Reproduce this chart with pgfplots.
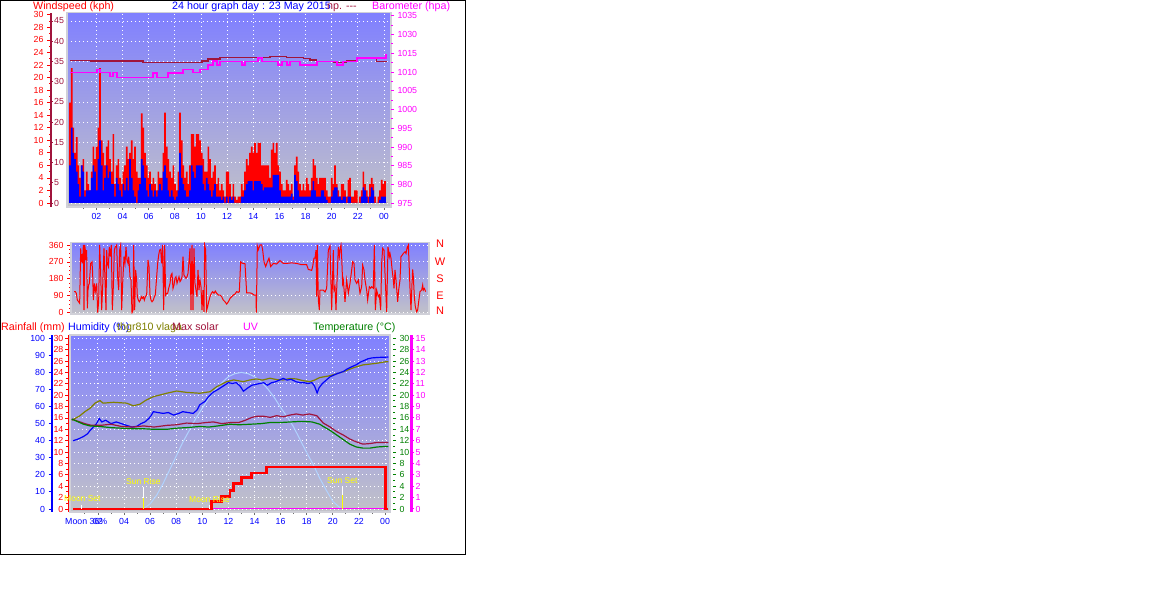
\documentclass[border=0pt]{standalone}
\usepackage{fontspec}
\setmainfont{Liberation Sans}
\usepackage{pgfplots}
\usepackage{pgfplotstable}
\pgfplotsset{compat=1.18}

\definecolor{bgtop}{RGB}{128,128,255}
\definecolor{bgbot}{RGB}{194,194,200}
\definecolor{mar}{RGB}{160,20,60}
\definecolor{oli}{RGB}{128,128,0}
\definecolor{mag}{RGB}{255,0,255}
\definecolor{grn}{RGB}{0,128,0}
\definecolor{sol}{RGB}{176,210,255}
\definecolor{yel}{RGB}{255,255,0}
\definecolor{frm}{RGB}{208,208,216}
\definecolor{tk}{RGB}{110,110,110}

\newcommand{\hdr}{\fontsize{10.7}{12}\selectfont}
\newcommand{\tkf}{\fontsize{8.8}{10}\selectfont}

\pgfplotstableread{
k gust avg
0 16 6
1 21.5 12
2 12 8
3 8 7
4 10.5 5
5 6 3
6 4 1
7 6 6
8 7 5
9 2 1
10 5 2
11 3 2
12 2 2
13 5 4
14 9 6
15 7 5
16 9 2
17 12 7
18 21.5 10
19 10 6
20 8 2
21 6 4
22 9 6
23 10 4
24 7 5
25 5 3
26 11 3
27 3 1
28 6 4
29 7 3
30 4 2
31 3 1
32 5 3
33 6 2
34 9 4
35 7 2
36 8 7
37 10 4
38 7 2
39 9 1
40 5 0
41 4 2
42 4 3
43 14.3 7
44 12 6
45 8 4
46 6 2
47 4 1
48 5 3
49 3 2
50 4 1
51 3 2
52 2 1
53 5 2
54 4 3
55 4 2
56 8 5
57 14.4 6
58 9 4
59 7 2
60 5 1
61 4 2
62 6 1
63 3 0.5
64 2 1
65 5 2
66 14.4 8
67 10 4
68 6 3
69 4 2
70 5 1
71 3 1
72 6 2
73 11 6
74 11 5
75 9 4
76 11 6
77 11 6
78 10 6
79 8 6
80 7 3
81 5 2
82 5 4
83 9 3
84 7 2
85 4 1
86 5 2
87 6 3
88 3 1
89 4 1
90 2 1
91 3 0.5
92 2 1
93 1 0
94 5 1
95 5 0
96 3 1
97 1 0.5
98 3 1
99 1 0
100 0.5 0
101 1 0
102 1 0
103 3 1
104 2 1
105 5 2
106 7 3
107 6 3.5
108 8 3.5
109 9 3.5
110 8 2
111 9.6 3.5
112 8 3.5
113 9.6 3.5
114 9.6 3.5
115 6 3
116 6 2
117 6 2.5
118 6 2.5
119 6 2.5
120 4 2.5
121 8.5 2.5
122 9.6 4.5
123 8 4.5
124 9.6 4.5
125 6 4.5
126 5 2
127 3 1
128 2 1
129 2 1
130 3.7 1
131 3 1
132 2 1
133 3 1.5
134 1 0.5
135 6 4.5
136 7.4 3.5
137 5 2
138 3 1
139 2 1
140 3 1
141 2 1
142 4 1
143 3 1
144 2 1
145 4 2
146 7 3.5
147 6 2
148 4 1
149 3 1
150 4 1
151 4 2
152 4 2
153 4 1
154 2 0.5
155 1 0
156 1 0
157 4 1
158 3 2
159 6 2.5
160 3 2.5
161 2 1
162 1 1
163 3 0.5
164 3 1
165 2 1
166 1 0
167 3.7 1
168 4 1
169 1 0
170 1 0
171 2 0
172 2 0
173 0 0
174 1 0
175 2 1
176 5 2.5
177 3 2
178 2 1
179 1 0
180 3 1
181 4 2.5
182 3 2
183 1 0
184 0 0
185 1 0
186 2 0.5
187 3.7 1
188 3 1
189 3.5 1
190 0 0
}\windtab

\pgfplotstableread{
x deg
222 112
226 112
229 103
232 67
236 58
239 50
242 342
244 280
246 298
248 262
250 360
252 14
254 360
256 333
258 280
260 333
262 23
264 120
266 147
268 156
272 262
276 271
278 209
280 67
283 156
286 112
290 156
293 0
296 58
299 360
302 209
305 14
308 138
312 342
315 174
318 14
320 333
322 262
325 245
328 350
331 298
334 360
337 14
340 138
343 333
346 350
350 360
353 191
356 120
359 333
362 360
365 14
368 156
372 298
375 262
378 350
381 280
384 262
386 298
388 254
390 191
393 174
396 0
399 14
401 360
404 14
407 227
410 174
412 85
415 67
418 58
421 67
424 85
427 76
430 85
433 67
436 85
440 94
444 280
447 245
450 94
453 67
456 58
460 67
463 85
466 94
470 191
473 262
476 307
479 333
482 337
485 262
488 360
491 14
494 360
497 94
500 103
503 103
506 129
510 156
513 200
516 209
519 129
522 147
525 183
528 191
531 156
534 174
537 191
540 165
543 174
546 191
549 298
552 200
555 191
558 183
561 191
564 209
567 271
570 342
573 14
576 360
579 14
582 342
585 156
588 120
591 85
594 227
597 120
600 174
603 138
606 14
609 120
612 5
614 360
617 333
620 14
623 32
626 58
630 85
634 103
638 112
642 103
646 115
650 103
655 94
660 94
665 85
670 67
675 58
680 46
685 58
690 76
695 85
700 94
705 99
710 112
715 108
718 112
722 270
728 262
735 260
740 105
750 105
755 103
762 94
768 94
769 0
772 355
775 335
780 360
785 360
788 333
792 270
797 245
802 270
807 290
812 245
820 262
830 259
840 277
850 262
860 262
875 265
890 262
905 255
920 255
925 230
935 225
938 245
942 290
945 290
948 333
950 85
952 360
955 67
958 14
960 120
965 120
970 120
975 110
980 130
985 333
990 355
995 14
1000 333
1002 120
1005 138
1008 14
1010 120
1015 350
1018 298
1020 333
1023 360
1025 298
1028 156
1030 174
1035 58
1040 174
1045 103
1050 156
1055 227
1058 271
1062 262
1065 174
1070 156
1075 174
1080 103
1085 138
1088 253
1092 227
1095 174
1100 120
1103 67
1108 138
1112 130
1115 138
1120 130
1123 360
1126 14
1130 120
1135 85
1138 94
1142 14
1145 262
1148 342
1152 333
1155 209
1158 85
1160 5
1164 350
1168 298
1170 315
1173 289
1177 218
1180 174
1182 129
1185 227
1188 174
1190 129
1193 58
1196 120
1200 174
1203 298
1207 307
1210 315
1215 324
1218 315
1222 350
1225 360
1228 227
1230 129
1233 14
1236 156
1238 230
1240 191
1243 85
1246 32
1250 5
1253 14
1256 58
1260 112
1265 120
1268 147
1270 120
1273 129
1277 112
}\dirtab

\pgfplotsset{
  panel/.style={scale only axis, anchor=north west,
    axis background/.style={top color=bgtop, bottom color=bgbot},
    axis line style={draw=frm, line width=1.2pt},
    grid=major,
    major grid style={draw=white, line width=0.9pt, dash pattern=on 0.9pt off 3.1pt},
    ytick style={draw=none}, yticklabels={},
    xtick pos=left, tick align=outside,
    xtick style={draw=tk, line width=0.8pt},
    major tick length=3pt, minor tick length=2pt,
    xticklabel style={font=\tkf, text=blue}},
  over/.style={scale only axis, anchor=north west, axis lines=none},
  yax/.style={scale only axis, anchor=north west, width=1pt, xmin=0, xmax=1,
    axis x line=none, tick align=outside,
    /pgf/number format/assume math mode=true,
    yticklabel style={font=\tkf},
    major tick length=4pt, minor tick length=2pt},
}

\begin{document}
\begin{tikzpicture}
\fill[white, use as bounding box] (0pt,0pt) rectangle (1176pt,615pt);
\draw[black, line width=1pt] (0.5pt,614.5pt) rectangle (465.5pt,60.5pt);

% ---------------- Panel 1: wind speed bars ----------------
\begin{axis}[panel, at={(67pt,602.3pt)}, width=324pt, height=194.3pt,
  xmin=-1.8, xmax=192.6, ymin=-0.64, ymax=30.35,
  xtick={15.86,31.55,47.23,62.92,78.6,94.28,109.97,125.65,141.34,157.02,172.7,188.39},
  xticklabels={02,04,06,08,10,12,14,16,18,20,22,00},
  minor xtick={8.02,23.7,39.4,55.1,70.8,86.4,102.1,117.8,133.5,149.2,164.9,180.5},
  ytick={0,3.22,6.44,9.66,12.88,16.10,19.32,22.54,25.76,28.98}]
\addplot[ybar, bar width=1, bar shift=0pt, fill=red, draw=none] table[x=k,y=gust] {\windtab};
\addplot[ybar, bar width=1, bar shift=0pt, fill=blue, draw=none] table[x=k,y=avg] {\windtab};
\end{axis}

% barometer lines
\begin{axis}[over, at={(67pt,602.3pt)}, width=324pt, height=194.3pt,
  xmin=-1.8, xmax=192.6, ymin=974.01, ymax=1025.83]
\addplot[const plot, mar, line width=1.4pt] coordinates {(0,1013.1)(12.6,1012.9)(43.8,1012.6)(79.2,1012.9)(82.8,1013.5)(90,1013.8)(112,1013.9)(120,1014.1)(130,1013.8)(140,1013.6)(144,1013.2)(148,1012.8)(158,1012.6)(166,1012.9)(172,1013.6)(184,1012.8)(190,1012.8)};
\addplot[const plot, mag, line width=1.4pt] coordinates {(0,1009.8)(16.2,1010.7)(18,1009.8)(24,1008.8)(25.8,1009.8)(28.2,1008.6)(49.8,1009.7)(52.2,1008.6)(58.8,1009.7)(67.8,1010.7)(73.8,1009.8)(78,1010.7)(82.8,1011.9)(85.8,1012.9)(88.2,1011.9)(90,1012.8)(103.2,1011.9)(105,1012.8)(112.8,1013.7)(115.2,1012.8)(124.8,1011.9)(127.2,1012.8)(130.2,1011.9)(132,1012.8)(138,1011.9)(148.2,1012.8)(160.2,1011.9)(163.8,1012.8)(172.2,1013.7)(189.6,1014.5)(190.2,1014.5)};
\end{axis}

% windspeed axis (left)
\begin{axis}[yax, at={(51pt,602.3pt)}, height=194.3pt,
  ymin=-0.64, ymax=30.35, axis y line*=left,
  y axis line style={-, draw=mar, line width=1.2pt},
  ytick={0,2,...,30}, minor y tick num=1,
  yticklabel style={text=red}, ytick style={draw=red, line width=0.8pt}]
\end{axis}
% gust scale (0-45)
\begin{axis}[yax, at={(50pt,602.3pt)}, height=194.3pt,
  ymin=-0.989, ymax=47.05, axis y line*=right,
  y axis line style={draw=none},
  ytick={0,5,...,45}, major tick length=2pt,
  yticklabel style={text=mar, inner sep=1pt}, ytick style={draw=mar, line width=0.8pt}]
\end{axis}
% barometer axis (right)
\begin{axis}[yax, at={(390pt,602.3pt)}, height=194.3pt,
  ymin=974.01, ymax=1025.83, axis y line*=right,
  y axis line style={draw=none},
  ytick={975,980,985,990,995,1000,1005,1010,1015,1020,1025},
  yticklabels={975,980,985,990,995,1000,1005,1010,1015,1030,1035},
  minor y tick num=1, major tick length=3pt,
  yticklabel style={text=mag}, ytick style={draw=mag, line width=0.9pt}]
\end{axis}

% ---------------- Panel 2: wind direction ----------------
\begin{axis}[panel, at={(71pt,372.3pt)}, width=358pt, height=71.3pt,
  xmin=213, xmax=1287, ymin=-6.9, ymax=372.2,
  xtick=\empty, ytick={0,90,180,270,360}, yticklabels={0,90,180,270,360},
  ytick pos=left, minor y tick num=3,
  ytick style={draw=red, line width=0.8pt}, major tick length=4pt,
  yticklabel style={font=\tkf, text=red}]
\addplot[red, line width=1pt] table[x=x,y=deg] {\dirtab};
\end{axis}

% ---------------- Panel 3: humidity / temperature / rain ----------------
\begin{axis}[panel, at={(70pt,280pt)}, width=320pt, height=177pt,
  xmin=-0.138, xmax=24.383, ymin=-1.76, ymax=101.93,
  xtick={2,4,...,24}, xticklabels={02,04,06,08,10,12,14,16,18,20,22,00},
  minor xtick={1,3,...,23},
  ytick={0,6.6667,13.333,20,26.667,33.333,40,46.667,53.333,60,66.667,73.333,80,86.667,93.333,100}]
% max solar (light blue)
\addplot[sol, line width=1pt] coordinates {(5.46,0)(6,3)(6.5,8)(7,15)(7.5,23)(8,31)(8.5,39)(9,46)(9.5,53)(10,59)(10.5,65)(11,70)(11.5,74)(12,77.5)(12.5,79.3)(13,80)(13.5,79.3)(14,77.5)(14.5,74.5)(15,70.5)(15.5,65.5)(16,59.5)(16.5,54)(17,48)(17.5,40.5)(18,33)(18.5,26)(19,18)(19.5,11)(20,4.5)(20.65,0)};
% thgr810 humidity (olive)
\addplot[oli, line width=1.2pt] coordinates {(0,52)(0.6,54.5)(1.0,57)(1.4,59)(1.78,62)(2.16,63.5)(2.4,62)(3.2,62.5)(4.2,62)(4.7,60.5)(5.2,61.3)(5.7,63.8)(6.25,65.8)(6.76,66.8)(7.27,67.8)(8.04,69.1)(8.8,68.3)(9.8,67.8)(10.6,68.7)(11.1,71.6)(11.87,74.6)(12.4,75.6)(13.14,74.6)(13.6,75.5)(14.16,76.2)(14.6,75.5)(15.18,76.6)(15.7,75.8)(16.2,75.6)(16.7,76.4)(17.2,76.2)(17.7,75.2)(18.25,74.6)(18.6,75.5)(19.0,77)(19.8,78.1)(20.8,80.4)(21.6,82.8)(22.3,84.4)(23.3,85.3)(24.1,86.3)(24.25,86.3)};
% humidity (blue)
\addplot[blue, line width=1.2pt] coordinates {(0.1,40)(0.5,41)(0.9,42.5)(1.2,44)(1.4,46)(1.65,48)(1.9,50)(2.1,53)(2.3,51)(2.6,52)(3.0,50)(3.4,51)(3.8,50)(4.2,49)(4.6,48)(5.0,48.5)(5.3,50)(5.6,51)(5.9,53)(6.1,55)(6.25,57)(6.6,56.5)(7.0,56)(7.4,56.5)(7.8,55)(8.2,56)(8.5,57)(8.9,56.5)(9.3,56)(9.6,58)(9.8,61)(10.2,63)(10.5,66)(10.85,68.5)(11.2,70)(11.6,72)(12.0,74)(12.3,73.5)(12.6,74)(12.9,72)(13.15,69)(13.5,71)(13.8,72.5)(14.1,73)(14.4,73.5)(14.7,74)(15.0,72.5)(15.3,74)(15.6,74.5)(15.9,75.5)(16.2,76.5)(16.5,75.5)(16.8,76)(17.2,74.5)(17.5,74)(17.8,74)(18.1,73.5)(18.4,74)(18.6,72)(18.8,68)(18.95,71)(19.2,73.5)(19.5,75.5)(19.8,77.5)(20.1,78.5)(20.4,79.5)(20.8,80.5)(21.1,82)(21.5,83.5)(21.8,84.5)(22.1,86)(22.4,87)(22.7,88)(23.0,88.5)(23.5,88.8)(24.25,89)};
\end{axis}

% overlay in temperature / rain units (0-30)
\begin{axis}[over, at={(70pt,280pt)}, width=320pt, height=177pt,
  xmin=-0.138, xmax=24.383, ymin=-0.528, ymax=30.58]
% maroon series
\addplot[mar, line width=1.2pt] coordinates {(0,15.8)(0.5,15.4)(1.0,15.0)(1.5,14.7)(2.2,14.7)(3.0,14.9)(3.8,14.5)(4.7,14.4)(5.5,14.6)(6.3,14.4)(7.3,14.7)(8.0,14.8)(8.8,15.1)(9.6,15.0)(10.3,15.2)(10.85,15.3)(11.5,15.0)(12.2,15.2)(12.8,15.2)(13.3,15.6)(13.8,16.1)(14.2,16.3)(14.7,16.3)(15.2,16.1)(15.7,16.4)(16.2,16.2)(16.7,16.5)(17.2,16.7)(17.7,16.5)(18.2,16.7)(18.77,16.4)(19.27,15.1)(19.8,14.4)(20.3,13.6)(20.8,13)(21.3,12.3)(21.8,11.8)(22.3,11.4)(22.85,11.5)(23.4,11.7)(24.1,11.7)(24.25,11.7)};
% temperature (green)
\addplot[grn, line width=1.2pt] coordinates {(0,15.8)(0.4,15.4)(0.9,14.9)(1.4,14.6)(2.16,14.5)(3.0,14.3)(3.8,14.2)(4.71,14.1)(5.5,14.1)(6.3,14.0)(7.27,14.0)(8.0,14.2)(8.8,14.3)(9.8,14.5)(10.5,14.4)(11.2,14.6)(12.12,14.9)(12.8,14.8)(13.7,14.9)(14.5,15.0)(15.2,15.2)(16.0,15.2)(16.8,15.3)(17.6,15.4)(18.4,15.3)(19.0,14.9)(19.27,14.5)(19.8,13.8)(20.3,13)(20.8,12.2)(21.3,11.4)(21.8,10.9)(22.3,10.7)(22.85,10.7)(23.4,10.9)(24.1,11)(24.25,11)};
% UV (zero)
\addplot[mag, line width=1pt] coordinates {(10.85,0)(24.25,0)};
% rainfall
\addplot[red, line width=2.6pt] coordinates {(0.1,0)(10.72,0)(10.72,1.3)(11.49,1.3)(11.49,2.2)(12.12,2.2)(12.12,3.2)(12.38,3.2)(12.38,4.5)(13.02,4.5)(13.02,5.5)(13.78,5.5)(13.78,6.3)(14.93,6.3)(14.93,7.4)(24.05,7.4)(24.05,0)(24.25,0)};
% sun / moon markers
\addplot[white, line width=1pt] coordinates {(0.78,0)(0.78,0.7)};
\addplot[white, line width=1pt] coordinates {(10.54,0)(10.54,0.7)};
\addplot[white, line width=1pt] coordinates {(5.46,2.0)(5.46,3.9)};
\addplot[yel, line width=1pt] coordinates {(5.46,0)(5.46,2.0)};
\addplot[white, line width=1pt] coordinates {(20.73,2.5)(20.73,3.9)};
\addplot[yel, line width=1.5pt] coordinates {(20.73,0)(20.73,2.5)};
\end{axis}

% humidity axis
\begin{axis}[yax, at={(52.5pt,280pt)}, height=177pt,
  ymin=-1.76, ymax=101.93, axis y line*=left,
  y axis line style={-, draw=blue, line width=2pt},
  ytick={0,10,...,100}, minor y tick num=1,
  yticklabel style={text=blue}, ytick style={draw=blue, line width=0.9pt}]
\end{axis}
% rainfall axis
\begin{axis}[yax, at={(68pt,280pt)}, height=177pt,
  ymin=-0.528, ymax=30.58, axis y line*=left,
  y axis line style={-, draw=red, line width=0.8pt},
  ytick={0,2,...,30}, minor y tick num=1, major tick length=3pt,
  yticklabel style={text=red, inner sep=1.5pt}, ytick style={draw=red, line width=0.9pt}]
\end{axis}
% temperature axis
\begin{axis}[yax, at={(392pt,280pt)}, height=177pt,
  ymin=-0.528, ymax=30.58, axis y line*=right,
  y axis line style={draw=none},
  ytick={0,2,...,30}, minor y tick num=1, major tick length=3pt,
  yticklabel style={text=grn}, ytick style={draw=grn, line width=0.9pt}]
\end{axis}
% UV axis
\begin{axis}[yax, at={(410pt,280pt)}, height=177pt,
  ymin=-0.264, ymax=15.29, axis y line*=right,
  y axis line style={-, draw=mag, line width=3pt},
  ytick={0,1,...,15}, major tick length=3pt,
  yticklabel style={text=mag, inner sep=1.5pt}, ytick style={draw=mag, line width=1pt}]
\end{axis}

% ---------------- texts ----------------
\begin{scope}[every node/.style={inner sep=0pt, anchor=base west, font=\hdr}]
\node[text=red] at (33pt,605.5pt) {Windspeed (kph)};
\node[text=blue] at (172pt,605.5pt) {24 hour graph day : 23 May 2015};
\node[text=mar] at (327pt,605.5pt) {np. -{}-{}-};
\node[text=mag] at (372pt,605.5pt) {Barometer (hpa)};
\node[text=red] at (1pt,284pt) {Rainfall (mm)};
\node[text=blue] at (68pt,284pt) {Humidity (\%)};
\node[text=oli] at (117pt,284pt) {thgr810 vlaga};
\node[text=mar] at (172pt,284pt) {Max solar};
\node[text=mag] at (243pt,284pt) {UV};
\node[text=grn] at (313pt,284pt) {Temperature (°C)};
\node[text=blue, font=\tkf] at (65pt,90pt) {Moon 36\%};
\end{scope}
\begin{scope}[every node/.style={inner sep=0pt, text=red, font=\fontsize{11}{12}\selectfont}]
\node at (440pt,371pt) {N};
\node at (440pt,353pt) {W};
\node at (440pt,336pt) {S};
\node at (440pt,319pt) {E};
\node at (440pt,304pt) {N};
\end{scope}
\begin{scope}[every node/.style={inner sep=0pt, anchor=west, text=yel, font=\fontsize{8.5}{10}\selectfont}]
\node at (64pt,116pt) {Moon Set};
\node at (126pt,134pt) {Sun Rise};
\node at (189pt,116pt) {Moon Rise};
\node at (327pt,134pt) {Sun Set};
\end{scope}
\end{tikzpicture}
\end{document}
